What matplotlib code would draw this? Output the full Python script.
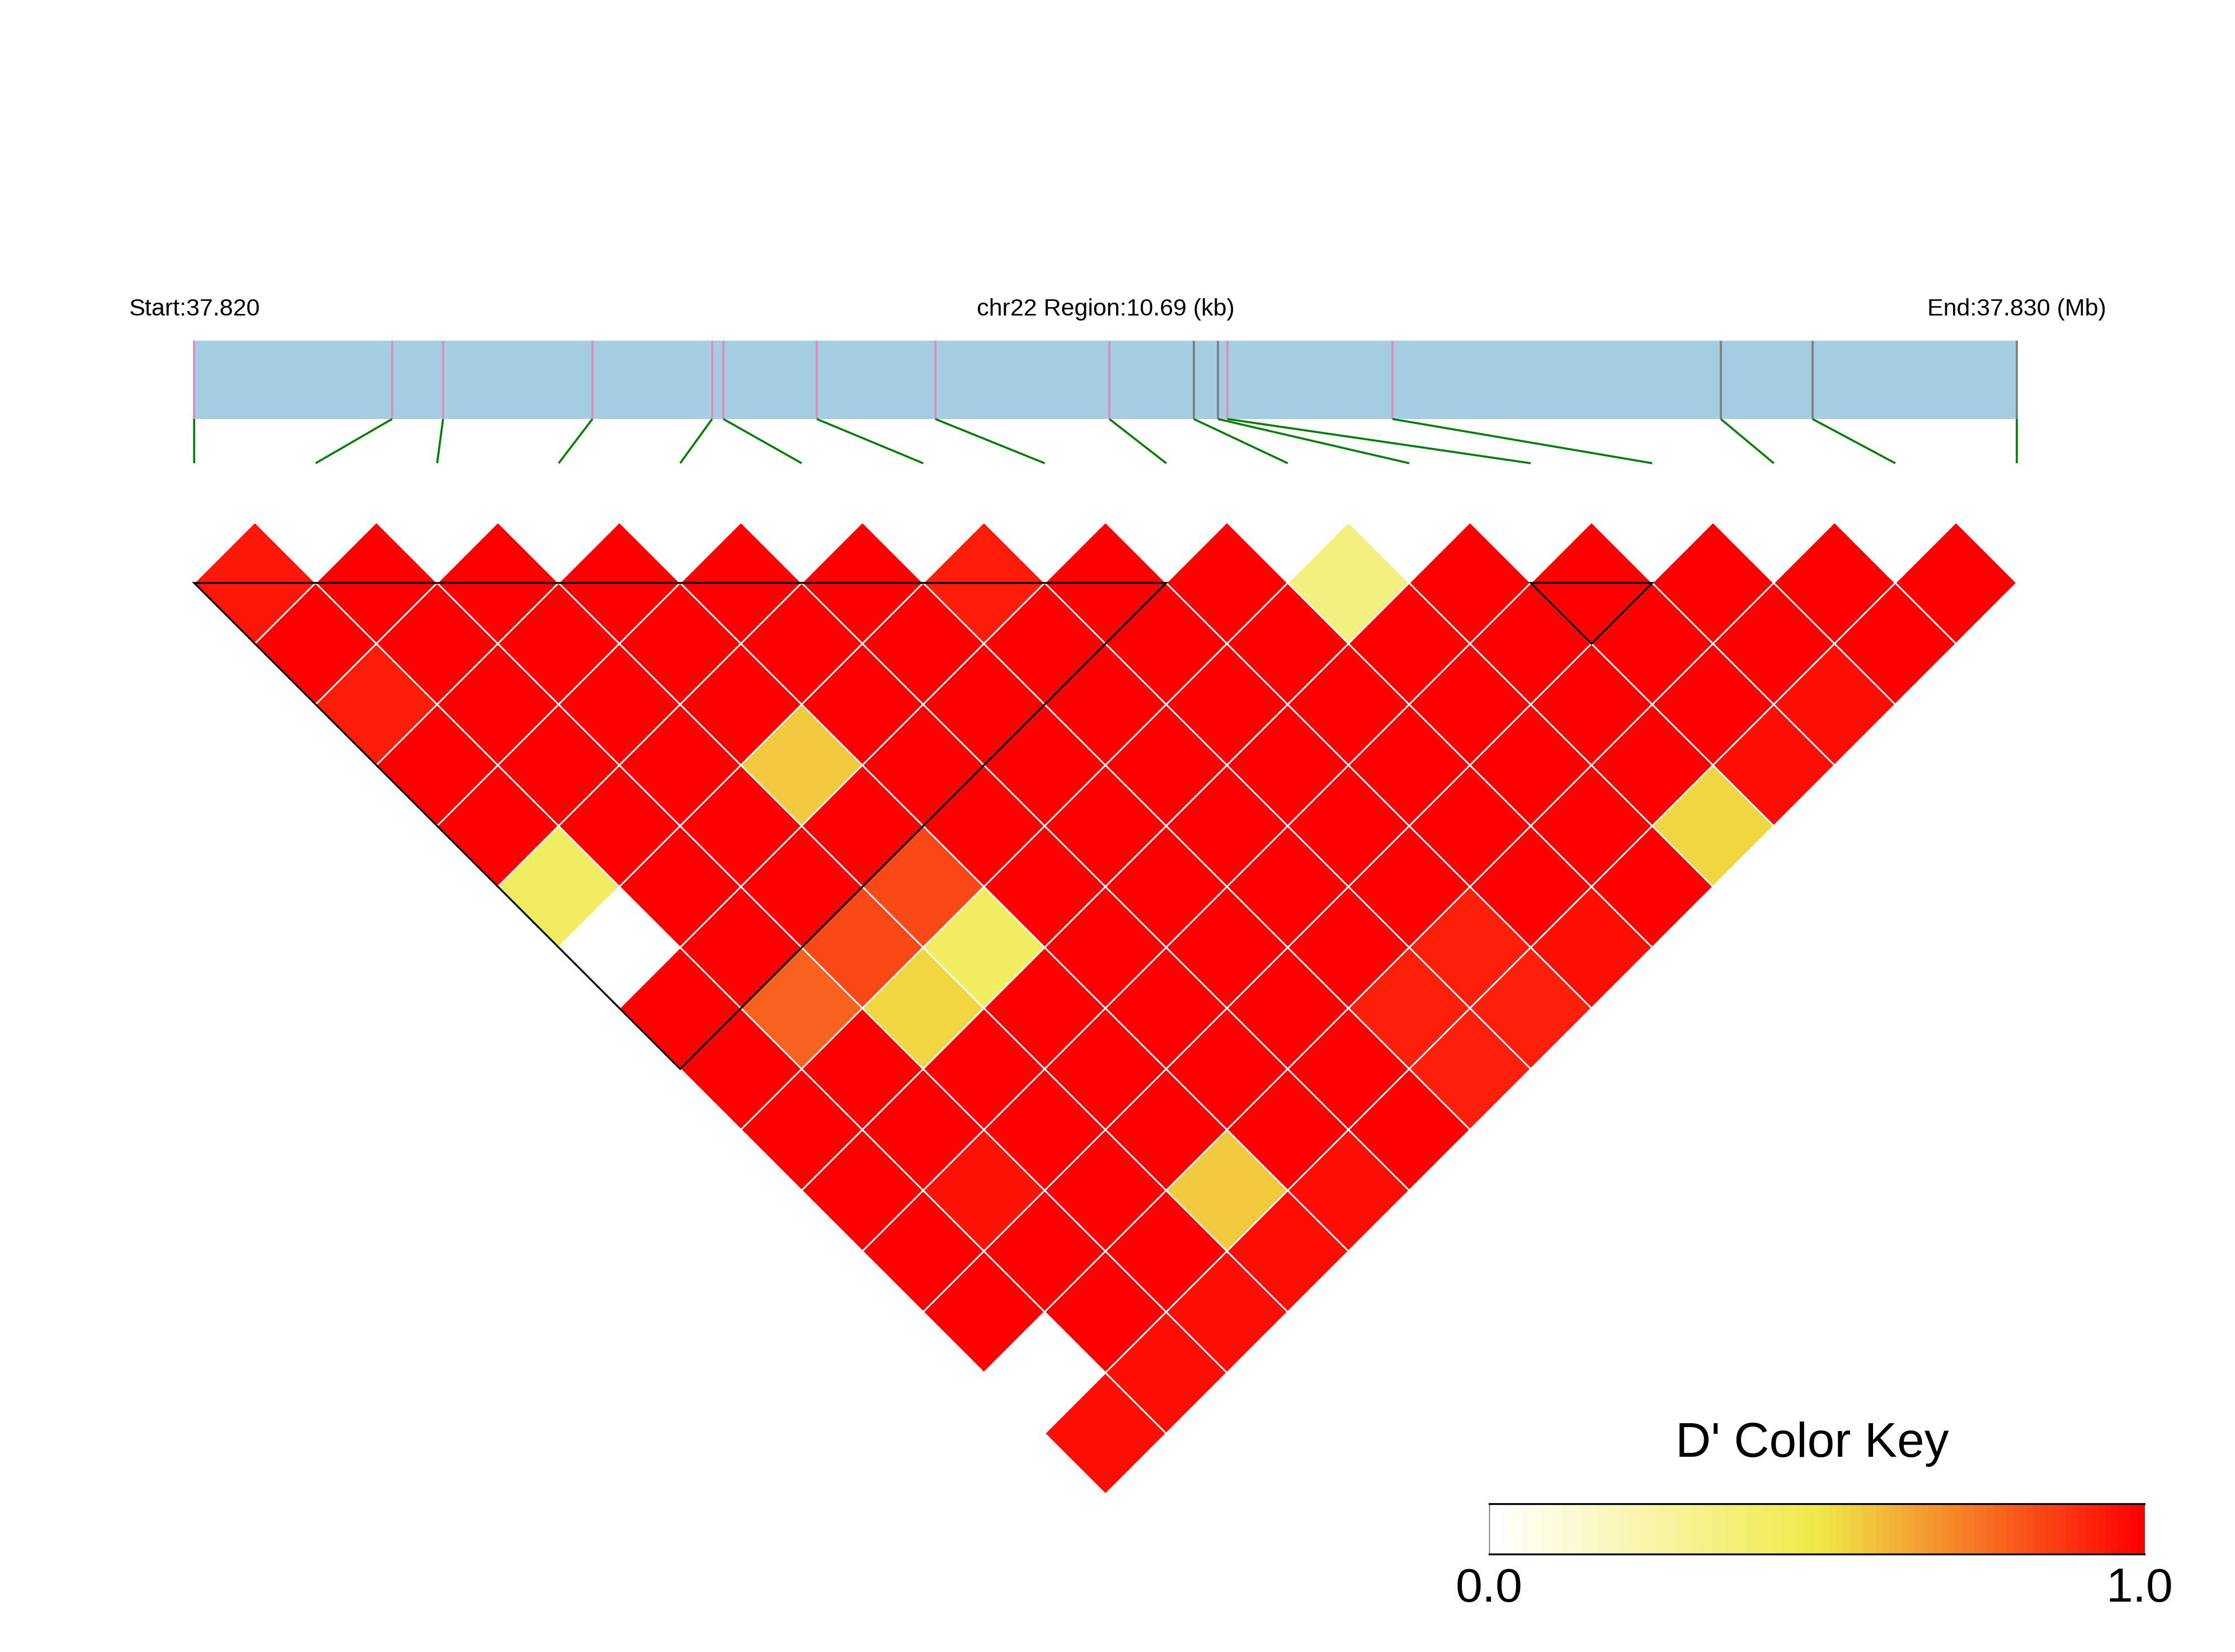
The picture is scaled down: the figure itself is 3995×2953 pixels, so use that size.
import numpy as np
import matplotlib
matplotlib.use('Agg')
import matplotlib.pyplot as plt
from matplotlib.colors import LinearSegmentedColormap
from matplotlib.collections import PolyCollection
from matplotlib.patches import Rectangle, Polygon

plt.rcParams['font.family'] = ['Liberation Sans', 'DejaVu Sans']

# ---------------- data ----------------
chrom = 'chr22'
snp_pos = [37819700, 37820861, 37821160, 37822036, 37822738, 37822804,
           37823352, 37824047, 37825068, 37825563, 37825705, 37825760,
           37826728, 37828654, 37829192, 37830390]
# 1 = pink marker, 0 = grey marker on the gene bar
snp_group = [1, 1, 1, 1, 1, 1, 1, 1, 1, 0, 0, 1, 1, 0, 0, 0]

# D' values, row i holds pairs (i, j) for j = i+1 .. 15
dprime_rows = [
    [0.95, 1.00, 0.94, 1.00, 1.00, 0.43, 0.00, 1.00, 1.00, 1.00, 1.00, 1.00, 1.00, 0.00, 0.97],
    [1.00, 1.00, 1.00, 1.00, 1.00, 1.00, 1.00, 0.79, 1.00, 1.00, 0.96, 1.00, 1.00, 0.97],
    [1.00, 1.00, 1.00, 1.00, 1.00, 1.00, 0.84, 0.54, 1.00, 1.00, 1.00, 1.00, 0.97],
    [1.00, 1.00, 1.00, 0.57, 1.00, 0.84, 0.43, 1.00, 1.00, 1.00, 0.57, 0.97],
    [1.00, 1.00, 1.00, 1.00, 1.00, 1.00, 1.00, 1.00, 1.00, 1.00, 0.97],
    [1.00, 1.00, 1.00, 1.00, 1.00, 1.00, 1.00, 1.00, 1.00, 1.00],
    [0.94, 1.00, 1.00, 1.00, 1.00, 1.00, 1.00, 0.93, 0.93],
    [1.00, 1.00, 1.00, 1.00, 1.00, 1.00, 0.93, 0.93],
    [1.00, 1.00, 1.00, 1.00, 1.00, 1.00, 0.97],
    [0.35, 1.00, 1.00, 1.00, 1.00, 1.00],
    [1.00, 1.00, 1.00, 1.00, 0.54],
    [1.00, 1.00, 1.00, 0.97],
    [1.00, 1.00, 0.97],
    [1.00, 1.00],
    [1.00],
]
blocks = [(0, 8), (11, 12)]
cbar_title = "D' Color Key"
cbar_labels = ['0.0', '1.0']

# ---------------- styles ----------------
cmap = LinearSegmentedColormap.from_list(
    'ld', [(0.0, '#FFFFFF'), (0.5, '#EFEA48'), (1.0, '#FF0000')])
bar_color = '#A6CEE3'
group_colors = {1: '#DF8BBE', 0: '#808080'}
link_color = '#008000'

W, H = 3995, 2953
n = len(snp_pos)
left_px, right_px, top_px = 347, 3605, 1042
unit = (right_px - left_px) / (n - 1)

fig = plt.figure(figsize=(W / 100, H / 100), dpi=100)
ax = fig.add_axes([0, 0, 1, 1])
ax.set_xlim(-left_px / unit, (W - left_px) / unit)
ax.set_ylim((H - top_px) / unit, -top_px / unit)
ax.axis('off')

# gene bar
pos = np.array(snp_pos, dtype=float)
gx = (pos - pos[0]) / (pos[-1] - pos[0]) * (n - 1)
bar_top, bar_bot, link_bot = -1.994, -1.349, -0.985
ax.add_patch(Rectangle((0, bar_top), n - 1, bar_bot - bar_top,
                       facecolor=bar_color, edgecolor='none'))
for k in range(n):
    ax.plot([gx[k], gx[k]], [bar_top, bar_bot], color=group_colors[snp_group[k]],
            lw=2.8, solid_capstyle='butt')
    ax.plot([gx[k], k], [bar_bot, link_bot], color=link_color, lw=2.6,
            solid_capstyle='butt')

text_y = -2.2
ax.text(0, text_y, f"Start:{snp_pos[0] / 1e6:.3f}", ha='center', va='baseline', fontsize=31)
ax.text((n - 1) / 2, text_y,
        f"{chrom} Region:{(snp_pos[-1] - snp_pos[0]) / 1000:.2f} (kb)",
        ha='center', va='baseline', fontsize=31)
ax.text(n - 1, text_y, f"End:{snp_pos[-1] / 1e6:.3f} (Mb)", ha='center',
        va='baseline', fontsize=31)

# LD diamonds
verts, cols = [], []
for i, row in enumerate(dprime_rows):
    for off, v in enumerate(row):
        j = i + 1 + off
        cx = (i + j) / 2
        cy = (j - i - 1) / 2
        verts.append([(cx - 0.5, cy), (cx, cy - 0.5), (cx + 0.5, cy), (cx, cy + 0.5)])
        cols.append(cmap(v))
ax.add_collection(PolyCollection(verts, facecolors=cols, edgecolors='white',
                                 linewidths=2.0))

# haplotype blocks
for a, b in blocks:
    ax.add_patch(Polygon([(a, 0), (b, 0), ((a + b) / 2, (b - a) / 2)], closed=True,
                         fill=False, edgecolor='black', lw=2.4, joinstyle='miter'))

# colour key
cax = fig.add_axes([2662 / W, 1 - 2778 / H, (3833 - 2662) / W, 90 / H])
N = 100
steps = np.arange(N) / N
cax.bar(steps, 1, width=1 / N, align='edge',
        color=[cmap(s) for s in np.linspace(0, 1, N)], edgecolor='none')
cax.set_xlim(0, 1)
cax.set_ylim(0, 1)
cax.set_xticks([])
cax.set_yticks([])
for s in ['top', 'bottom']:
    cax.spines[s].set_linewidth(2.4)
    cax.spines[s].set_color('black')
for s in ['left', 'right']:
    cax.spines[s].set_linewidth(1.0)
    cax.spines[s].set_color('#555555')
cax.text(0.493, 1.933, cbar_title, ha='center', va='baseline', fontsize=63,
         transform=cax.transAxes)
cax.text(0.0, -0.944, cbar_labels[0], ha='center', va='baseline', fontsize=62,
         transform=cax.transAxes)
cax.text(0.993, -0.944, cbar_labels[1], ha='center', va='baseline', fontsize=62,
         transform=cax.transAxes)

fig.savefig('out.png', dpi=100, facecolor='white')
